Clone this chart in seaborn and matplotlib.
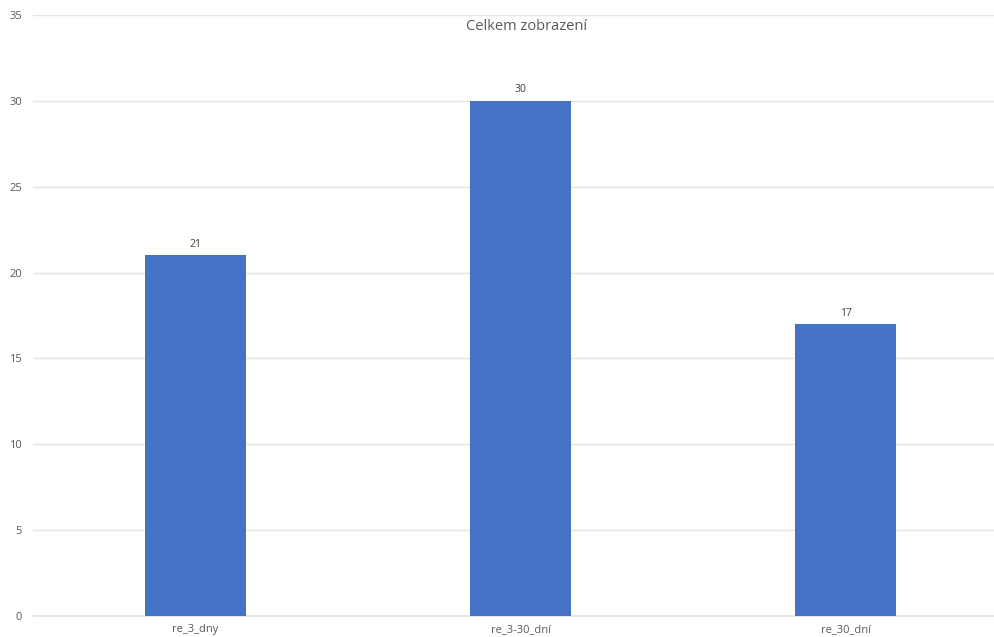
import matplotlib
matplotlib.use("Agg")
import matplotlib.pyplot as plt
import seaborn as sns
import pandas as pd

categories = ["re_3_dny", "re_3-30_dní", "re_30_dní"]
views = [21, 30, 17]
y_ticks = [0, 5, 10, 15, 20, 25, 30, 35]

sns.set_theme(style="white")
plt.rcParams["font.family"] = ["Open Sans", "DejaVu Sans"]

df = pd.DataFrame({"kategorie": categories, "zobrazeni": views})

fig = plt.figure(figsize=(9.95, 6.37), dpi=100)
ax = fig.add_axes([33 / 995, 1 - 616 / 637, 975 / 995, 601 / 637])

sns.barplot(data=df, x="kategorie", y="zobrazeni", color="#4472C4",
            width=0.31, ax=ax, zorder=3, saturation=1, linewidth=0)

ax.set_ylim(0, 35)
ax.set_xlim(-0.5, len(categories) - 0.5)
ax.set_yticks(y_ticks)
ax.set_yticklabels([str(t) for t in y_ticks])
ax.yaxis.grid(True, color="#e3e3e3", linewidth=1, zorder=0)
ax.set_axisbelow(True)
for s in ax.spines.values():
    s.set_visible(False)
ax.axhline(0, color="#e3e3e3", linewidth=1.2, zorder=1, clip_on=False)
ax.set_xlabel("")
ax.set_ylabel("")
ax.tick_params(axis="y", labelsize=8, colors="#595959", length=0, pad=8)
ax.tick_params(axis="x", labelsize=8, colors="#595959", length=0, pad=5.5)
for lbl in ax.get_yticklabels():
    lbl.set_horizontalalignment("right")

for i, v in enumerate(views):
    ax.annotate(str(v), (i, v), xytext=(0, 4), textcoords="offset points",
                ha="center", va="bottom", fontsize=7.5, color="#404040")

fig.text(527 / 995, 1 - 26 / 637, "Celkem zobrazení", ha="center", va="center",
         fontsize=10.5, color="#595959")

fig.savefig("out.png", dpi=100, facecolor="white")
